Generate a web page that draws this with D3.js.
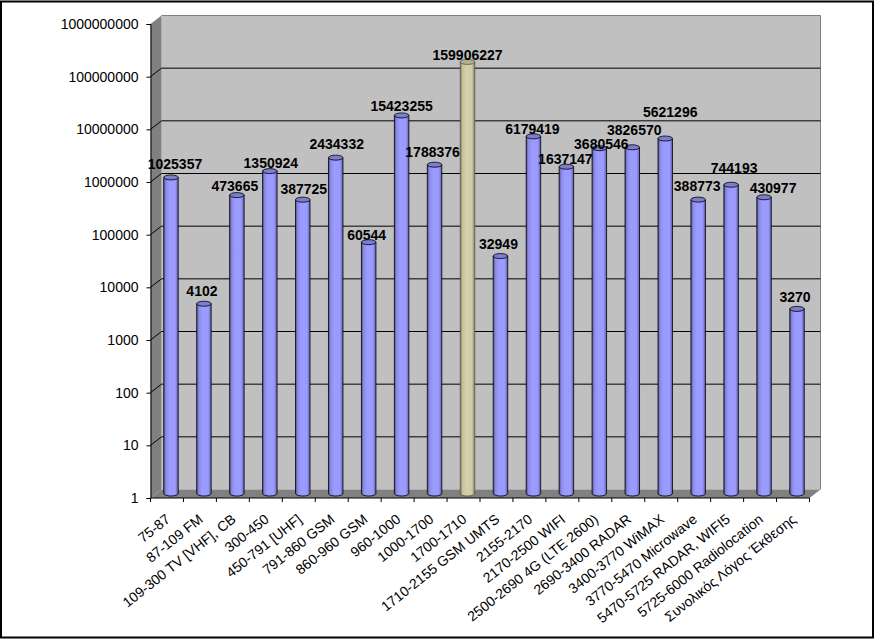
<!DOCTYPE html>
<html><head><meta charset="utf-8">
<script src="https://cdn.jsdelivr.net/npm/d3@7/dist/d3.min.js"></script>
<style>html,body{margin:0;padding:0;background:#fff}svg{display:block}text{font-family:"Liberation Sans",Arial,sans-serif}</style>
</head><body><svg id="c" width="875" height="640"></svg>
<script>
const categories=["75-87","87-109 FM","109-300 TV [VHF], CB","300-450","450-791 [UHF]","791-860 GSM","860-960 GSM","960-1000","1000-1700","1700-1710","1710-2155 GSM UMTS","2155-2170","2170-2500 WIFI","2500-2690 4G (LTE 2600)","2690-3400 RADAR","3400-3770 WiMAX","3770-5470 Microwave","5470-5725 RADAR, WIFI5","5725-6000 Radiolocation","Συνολικός Λόγος Έκθεσης"];
const values=[1025357,4102,473665,1350924,387725,2434332,60544,15423255,1788376,159906227,32949,6179419,1637147,3680546,3826570,5621296,388773,744193,430977,3270];
const yTicks=[1,10,100,1000,10000,100000,1000000,10000000,100000000,1000000000];
const highlighted="1700-1710";
// Hand-placed data-label nudges relative to each bar top (the source chart moved them individually)
const labelDx=[4,-2,-2,1,1,1,-2,0,-2,0,-2,-1,-1,2,2,5,-1,3,9,-2];
const labelDy=[-8.4,-7.7,-4,-3,-6,-8.6,-2,-4.4,-7.7,-2,-7,-2,-3,1,-12,-21.5,-8.6,-11.7,-4,-7];

const depthX=11,depthY=8.5,plotL=150.5,plotR=809.5,plotB=498,plotT=24;
const svg=d3.select("#c");
const x=d3.scaleBand().domain(categories).range([plotL,plotR]);
const y=d3.scaleLog().domain([1,1e9]).range([plotB,plotT]);
const defs=svg.append("defs");
function grad(id,stops){const g=defs.append("linearGradient").attr("id",id);stops.forEach(s=>g.append("stop").attr("offset",s[0]).attr("stop-color",s[1]));}
grad("blue",[[0,"#4f4f8f"],[.15,"#8a8ae6"],[.4,"#9c9cff"],[.8,"#9999ff"],[1,"#5c5ca6"]]);
grad("tan",[[0,"#7d7a60"],[.15,"#c4c09a"],[.4,"#d4d0aa"],[.8,"#cfcba5"],[1,"#84826a"]]);
svg.append("rect").attr("x",1).attr("y",1.5).attr("width",872).attr("height",636).attr("fill","#fff").attr("stroke","#000").attr("stroke-width",2);
const poly=(p,f)=>svg.append("polygon").attr("points",p.map(d=>d.join(",")).join(" ")).attr("fill",f);
poly([[plotL+depthX,plotT-depthY],[plotR+depthX,plotT-depthY],[plotR+depthX,plotB-depthY],[plotL+depthX,plotB-depthY]],"#c0c0c0");
poly([[plotL,plotT],[plotL+depthX,plotT-depthY],[plotL+depthX,plotB-depthY],[plotL,plotB]],"#808080");
poly([[plotL,plotB],[plotL+depthX,plotB-depthY],[plotR+depthX,plotB-depthY],[plotR,plotB]],"#808080");
svg.append("path").attr("d",`M${plotL+depthX},${plotT-depthY}H${plotR+depthX}V${plotB-depthY}`).attr("fill","none").attr("stroke","#808080");
yTicks.slice(1,-1).forEach(t=>{
  svg.append("path").attr("d",`M${plotL},${y(t)}L${plotL+depthX},${y(t)-depthY}H${plotR+depthX}`).attr("fill","none").attr("stroke","#000").attr("stroke-width",1);
});
const gy=svg.append("g").attr("transform",`translate(${plotL},0)`).call(d3.axisLeft(y).tickValues(yTicks).tickFormat(d3.format("d")).tickSize(4).tickPadding(8));
gy.selectAll("text").attr("font-size",14).attr("fill","#000").style("font-family",'"Liberation Sans"');
const gx=svg.append("g").attr("transform",`translate(0,${plotB})`);
gx.append("path").attr("d",`M${plotL},0H${plotR}`).attr("stroke","#000");
[...categories.map(c=>x(c)),plotR].forEach(v=>gx.append("line").attr("x1",v).attr("x2",v).attr("y1",0).attr("y2",4).attr("stroke","#000"));
gx.selectAll("text.cat").data(categories).join("text").attr("class","cat")
 .attr("text-anchor","end").attr("font-size",14).attr("fill","#000")
 .attr("transform",c=>`translate(${x(c)+x.bandwidth()/2+4},23) rotate(-38.5)`)
 .text(c=>c);
const bw=14.5,rx=bw/2,ry=2.5,bOff=4;
const data=categories.map((c,i)=>({c,v:values[i],i}));
const cx=d=>x(d.c)+x.bandwidth()/2+bOff;
const ty=d=>y(d.v)-4;
const g=svg.selectAll("g.bar").data(data).join("g").attr("class","bar");
g.append("path").attr("d",d=>`M${cx(d)-rx},${ty(d)}V${plotB-4.5}A${rx},${ry} 0 0 0 ${cx(d)+rx},${plotB-4.5}V${ty(d)}Z`)
 .attr("fill",d=>d.c===highlighted?"url(#tan)":"url(#blue)").attr("stroke",d=>d.c===highlighted?"#555":"#000").attr("stroke-width",.8);
g.append("ellipse").attr("cx",cx).attr("cy",ty).attr("rx",rx).attr("ry",ry)
 .attr("fill",d=>d.c===highlighted?"#b5b08c":"#7c7cd0").attr("stroke",d=>d.c===highlighted?"#555":"#000").attr("stroke-width",.8);
svg.append("g").selectAll("text").data(data).join("text")
 .attr("x",d=>cx(d)+labelDx[d.i]).attr("y",d=>ty(d)+labelDy[d.i]).attr("text-anchor","middle")
 .attr("font-size",14).attr("font-weight","bold").attr("fill","#000").text(d=>d.v);
</script></body></html>
